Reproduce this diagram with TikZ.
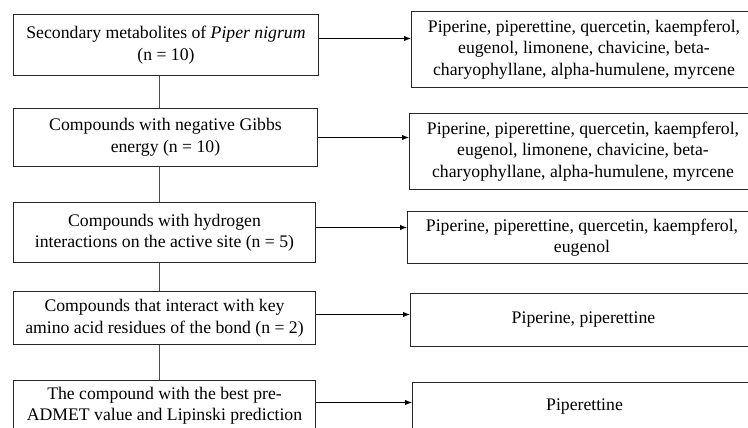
\documentclass[tikz,border=0pt]{standalone}
\usepackage{fontspec}
\setmainfont{Liberation Serif}
\usetikzlibrary{arrows.meta}
\begin{document}
\begin{tikzpicture}[x=1pt,y=-1pt,
  box/.style={draw=black!85, line width=1pt, anchor=north west, inner sep=0pt,
    align=center, font=\fontsize{17.7}{21.5}\selectfont},
  vline/.style={draw=black!70, line width=1pt},
  arr/.style={draw=black, line width=1pt, -{Latex[length=7pt,width=5.5pt]}}]
\useasboundingbox (0,0) rectangle (748,428);
\clip (0,0) rectangle (748,428);
% left column
\node[box, minimum width=305, minimum height=61] (b1) at (13,14)
  {Secondary metabolites of \textit{Piper nigrum}\\(n = 10)};
\node[box, minimum width=304, minimum height=58] (b2) at (13,108)
  {Compounds with negative Gibbs\\energy (n = 10)};
\node[box, minimum width=302, minimum height=60] (b3) at (13,202)
  {Compounds with hydrogen\\interactions on the active site (n = 5)};
\node[box, minimum width=302, minimum height=53] (b4) at (13,291)
  {Compounds that interact with key\\amino acid residues of the bond (n = 2)};
\node[box, minimum width=302, minimum height=50] (b5) at (13,380)
  {The compound with the best pre-\\ADMET value and Lipinski prediction};
% right column
\node[box, minimum width=345, minimum height=76] (r1) at (411,11)
  {Piperine, piperettine, quercetin, kaempferol,\\eugenol, limonene, chavicine, beta-\\charyophyllane, alpha-humulene, myrcene};
\node[box, minimum width=347, minimum height=76] (r2) at (409,113)
  {Piperine, piperettine, quercetin, kaempferol,\\eugenol, limonene, chavicine, beta-\\charyophyllane, alpha-humulene, myrcene};
\node[box, minimum width=349, minimum height=52] (r3) at (407,211)
  {Piperine, piperettine, quercetin, kaempferol,\\eugenol};
\node[box, minimum width=346, minimum height=53] (r4) at (410,293)
  {Piperine, piperettine};
\node[box, minimum width=344, minimum height=48] (r5) at (412,382)
  {Piperettine};
% vertical connectors
\draw[vline] ([xshift=-7pt]b1.south) -- ([xshift=-7pt]b1.south |- b2.north);
\draw[vline] ([xshift=-6pt]b2.south) -- ([xshift=-6pt]b2.south |- b3.north);
\draw[vline] ([xshift=-5pt]b3.south) -- ([xshift=-5pt]b3.south |- b4.north);
\draw[vline] ([xshift=-5pt]b4.south) -- ([xshift=-5pt]b4.south |- b5.north);
% horizontal arrows
\draw[arr] ([yshift=6.5pt]b1.east) -- ([yshift=6.5pt]b1.east -| r1.west);
\draw[arr] (b2.east) -- (b2.east -| r2.west);
\draw[arr] ([yshift=5pt]b3.east) -- ([yshift=5pt]b3.east -| r3.west);
\draw[arr] ([yshift=3.5pt]b4.east) -- ([yshift=3.5pt]b4.east -| r4.west);
\draw[arr] ([yshift=3pt]b5.east) -- ([yshift=3pt]b5.east -| r5.west);
\end{tikzpicture}
\end{document}
